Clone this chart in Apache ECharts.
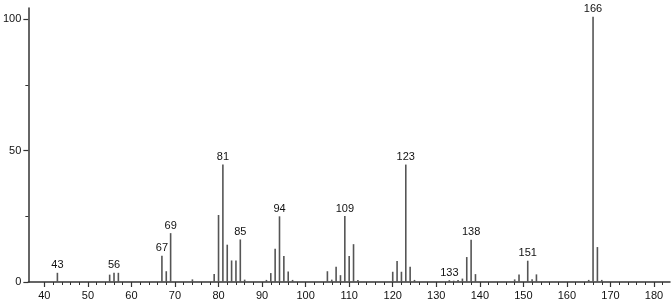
<!DOCTYPE html>
<html>
<head>
<meta charset="utf-8">
<script src="https://cdn.jsdelivr.net/npm/echarts@6/dist/echarts.min.js"></script>
<style>html,body{margin:0;padding:0;background:#fff}#c{width:672px;height:304px}</style>
</head>
<body>
<div id="c"></div>
<script>
var mz = [43,55,56,57,67,68,69,74,79,80,81,82,83,84,85,86,91,92,93,94,95,96,97,105,106,107,108,109,110,111,112,120,121,122,123,124,125,133,134,135,136,137,138,139,148,149,151,152,153,165,166,167,168];
var intensity = [3.5,2.8,3.5,3.5,10.0,4.1,18.6,1.0,3.0,25.5,44.7,14.2,8.2,8.2,16.2,0.9,0.8,3.4,12.7,25.0,9.9,4.0,0.8,4.1,0.9,5.8,2.6,25.1,9.9,14.4,0.8,3.9,8.0,3.9,44.7,5.8,0.8,0.7,0.5,0.8,1.3,9.5,16.1,3.0,1.0,2.9,8.1,1.0,2.9,0.8,101,13.3,0.8];
var labeledPeaks = [43,56,67,69,81,85,94,109,123,133,138,151,166];
var xMajorTicks = [40,50,60,70,80,90,100,110,120,130,140,150,160,170,180];
var xMinorTicks = [42,44,46,48,52,54,56,58,62,64,66,68,72,74,76,78,82,84,86,88,92,94,96,98,102,104,106,108,112,114,116,118,122,124,126,128,132,134,136,138,142,144,146,148,152,154,156,158,162,164,166,168,172,174,176,178,182];
var yLabelTicks = [0,50,100];
var yMinorTicks = [25,75];

var FONT = 'Liberation Sans';
var data = mz.map(function (m, i) {
  var d = { value: [m, intensity[i]] };
  if (labeledPeaks.indexOf(m) >= 0) {
    d.label = { show: true, position: 'top', distance: 2, formatter: String(m), color: '#111', fontSize: 11, fontFamily: FONT };
  }
  return d;
});

var chart = echarts.init(document.getElementById('c'), null, { renderer: 'canvas' });
var xBase = { type: 'value', min: 36.33, max: 183.67, splitLine: { show: false }, position: 'bottom' };
var yBase = { type: 'value', min: 0, max: 104.3, splitLine: { show: false }, position: 'left' };
chart.setOption({
  animation: false,
  backgroundColor: '#fff',
  grid: { left: 27, right: 2, top: 8, bottom: 22, containLabel: false },
  xAxis: [
    Object.assign({}, xBase, {
      axisLine: { show: true, lineStyle: { color: '#333', width: 1.5 } },
      axisTick: { show: true, length: 5, customValues: xMajorTicks, lineStyle: { color: '#333', width: 1.2 } },
      axisLabel: { show: true, customValues: xMajorTicks, margin: 8, color: '#111', fontSize: 11, fontFamily: FONT }
    }),
    Object.assign({}, xBase, {
      axisLine: { show: false },
      axisTick: { show: true, length: 3, customValues: xMinorTicks, lineStyle: { color: '#333', width: 1 } },
      axisLabel: { show: false }
    })
  ],
  yAxis: [
    Object.assign({}, yBase, {
      axisLine: { show: true, lineStyle: { color: '#333', width: 1.5 } },
      axisTick: { show: true, length: 5, customValues: yLabelTicks, lineStyle: { color: '#333', width: 1.2 } },
      axisLabel: { show: true, customValues: yLabelTicks, margin: 7, color: '#111', fontSize: 11, fontFamily: FONT }
    }),
    Object.assign({}, yBase, {
      axisLine: { show: false },
      axisTick: { show: true, length: 3, customValues: yMinorTicks, lineStyle: { color: '#333', width: 1 } },
      axisLabel: { show: false }
    })
  ],
  series: [{
    type: 'bar',
    xAxisIndex: 0,
    yAxisIndex: 0,
    barWidth: 1.6,
    itemStyle: { color: '#555' },
    data: data
  }]
});
</script>
</body>
</html>
